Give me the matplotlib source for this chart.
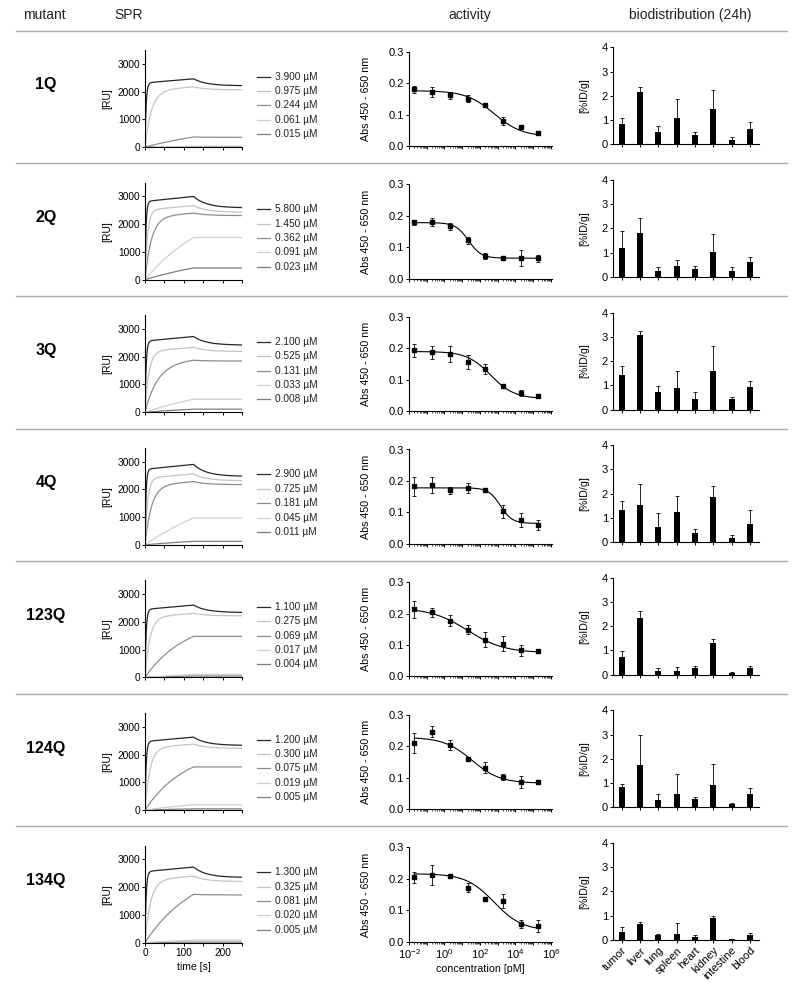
import numpy as np
import matplotlib
matplotlib.use("Agg")
import matplotlib.pyplot as plt
from matplotlib.lines import Line2D
from matplotlib.ticker import FixedLocator, FuncFormatter, LogLocator, NullFormatter

plt.rcParams['font.family'] = ['Liberation Sans', 'DejaVu Sans']
plt.rcParams['font.size'] = 7.3
plt.rcParams['axes.linewidth'] = 0.8
plt.rcParams['xtick.major.width'] = 0.7
plt.rcParams['ytick.major.width'] = 0.7
plt.rcParams['xtick.minor.width'] = 0.5
plt.rcParams['xtick.major.size'] = 2.4
plt.rcParams['ytick.major.size'] = 2.4
plt.rcParams['xtick.minor.size'] = 1.2
plt.rcParams['xtick.major.pad'] = 1.5
plt.rcParams['ytick.major.pad'] = 1.0

mutants = ["1Q", "2Q", "3Q", "4Q", "123Q", "124Q", "134Q"]

# SPR: injected concentrations (uM), response at end of injection (125 s),
# response at end of run, observed association rate (1/s)
spr_conc = [[3.9, 0.975, 0.244, 0.061, 0.015],
            [5.8, 1.45, 0.362, 0.091, 0.023],
            [2.1, 0.525, 0.131, 0.033, 0.008],
            [2.9, 0.725, 0.181, 0.045, 0.011],
            [1.1, 0.275, 0.069, 0.017, 0.004],
            [1.2, 0.3, 0.075, 0.019, 0.005],
            [1.3, 0.325, 0.081, 0.020, 0.005]]
spr_peak = [[2460, 2170, 360, 30, 8],
            [3000, 2670, 2400, 1520, 420],
            [2730, 2340, 1875, 470, 110],
            [2900, 2560, 2280, 970, 125],
            [2610, 2310, 1480, 110, 50],
            [2630, 2380, 1555, 190, 40],
            [2725, 2400, 1740, 90, 20]]
spr_end = [[2210, 2060, 350, 30, 8],
           [2590, 2430, 2310, 1520, 420],
           [2420, 2190, 1845, 470, 110],
           [2470, 2310, 2170, 970, 125],
           [2340, 2220, 1480, 110, 50],
           [2330, 2220, 1555, 190, 40],
           [2350, 2200, 1720, 90, 20]]
spr_kobs = [[0.35, 0.06, 0.004, 0.004, 0.004],
            [0.4, 0.15, 0.06, 0.006, 0.004],
            [0.35, 0.1, 0.03, 0.004, 0.004],
            [0.4, 0.15, 0.06, 0.004, 0.004],
            [0.35, 0.08, 0.01, 0.004, 0.004],
            [0.35, 0.08, 0.01, 0.004, 0.004],
            [0.35, 0.07, 0.008, 0.004, 0.004]]
spr_colors = ['#262626', '#c4c4c4', '#8c8c8c', '#cfcfcf', '#7d7d7d']

# activity (ELISA), concentration in pM
act_conc = [0.02, 0.2, 2, 20, 200, 2000, 20000, 200000]
act_mean = [[0.180, 0.173, 0.161, 0.150, 0.131, 0.080, 0.059, 0.042],
            [0.179, 0.180, 0.166, 0.122, 0.071, 0.065, 0.065, 0.064],
            [0.194, 0.187, 0.182, 0.156, 0.134, 0.081, 0.058, 0.047],
            [0.183, 0.188, 0.170, 0.177, 0.171, 0.103, 0.076, 0.059],
            [0.213, 0.204, 0.177, 0.149, 0.116, 0.104, 0.083, 0.081],
            [0.210, 0.246, 0.205, 0.160, 0.132, 0.101, 0.086, 0.085],
            [0.205, 0.212, 0.210, 0.172, 0.136, 0.128, 0.056, 0.050]]
act_err = [[0.012, 0.016, 0.012, 0.011, 0.007, 0.013, 0.003, 0.007],
           [0.009, 0.012, 0.010, 0.011, 0.009, 0.006, 0.025, 0.011],
           [0.020, 0.022, 0.027, 0.022, 0.015, 0.007, 0.009, 0.006],
           [0.030, 0.025, 0.012, 0.015, 0.002, 0.022, 0.021, 0.016],
           [0.026, 0.014, 0.017, 0.014, 0.024, 0.024, 0.017, 0.006],
           [0.033, 0.017, 0.016, 0.003, 0.017, 0.010, 0.018, 0.006],
           [0.018, 0.033, 0.003, 0.013, 0.003, 0.022, 0.012, 0.019]]
# 4PL fit parameters
fit_top = [0.176, 0.178, 0.190, 0.178, 0.218, 0.228, 0.216]
fit_bottom = [0.030, 0.065, 0.040, 0.065, 0.075, 0.082, 0.035]
fit_logic50 = [2.8, 1.35, 2.6, 3.15, 1.3, 1.55, 2.8]
fit_hill = [0.55, 1.2, 0.65, 1.3, 0.42, 0.55, 0.55]

# biodistribution 24h, %ID/g
organs = ["tumor", "liver", "lung", "spleen", "heart", "kidney", "intestine", "blood"]
bio_mean = [[0.84, 2.14, 0.51, 1.09, 0.40, 1.44, 0.19, 0.62],
            [1.19, 1.81, 0.26, 0.44, 0.34, 1.01, 0.23, 0.63],
            [1.43, 3.07, 0.73, 0.88, 0.43, 1.57, 0.43, 0.91],
            [1.34, 1.52, 0.61, 1.25, 0.39, 1.88, 0.18, 0.74],
            [0.72, 2.35, 0.16, 0.15, 0.27, 1.32, 0.08, 0.27],
            [0.83, 1.76, 0.31, 0.53, 0.33, 0.90, 0.12, 0.53],
            [0.32, 0.66, 0.22, 0.25, 0.14, 0.89, 0.03, 0.22]]
bio_err = [[0.26, 0.24, 0.26, 0.79, 0.12, 0.79, 0.13, 0.30],
           [0.70, 0.63, 0.14, 0.24, 0.09, 0.76, 0.18, 0.18],
           [0.36, 0.17, 0.22, 0.71, 0.30, 1.06, 0.08, 0.27],
           [0.37, 0.86, 0.59, 0.65, 0.17, 0.42, 0.11, 0.57],
           [0.26, 0.28, 0.10, 0.15, 0.07, 0.14, 0.04, 0.10],
           [0.13, 1.23, 0.22, 0.84, 0.08, 0.87, 0.06, 0.26],
           [0.21, 0.09, 0.04, 0.45, 0.07, 0.11, 0.00, 0.05]]

W, H = 800, 988
fig = plt.figure(figsize=(8, 9.88), dpi=100)


def rect(left, bottom, width, height):
    return [left / W, 1 - bottom / H, width / W, height / H]


def style(ax):
    for s in ['top', 'right']:
        ax.spines[s].set_visible(False)
    ax.tick_params(direction='out', colors='black')


t_inj = 125.0
t = np.linspace(0, 250, 501)


def sensorgram(peak, end, k):
    assoc = peak * (0.94 * (1 - np.exp(-k * t)) / (1 - np.exp(-k * t_inj)) + 0.06 * t / t_inj)
    diss = end + (peak - end) * np.exp(-0.03 * (t - t_inj))
    return np.where(t <= t_inj, assoc, diss)


# header
hy = 15
fig.text(44 / W, 1 - hy / H, "mutant", ha='center', va='center', fontsize=10, color='#222222')
fig.text(129 / W, 1 - hy / H, "SPR", ha='center', va='center', fontsize=10, color='#222222')
fig.text(470 / W, 1 - hy / H, "activity", ha='center', va='center', fontsize=10, color='#222222')
fig.text(690 / W, 1 - hy / H, "biodistribution (24h)", ha='center', va='center', fontsize=10, color='#222222')

row_h = 132.6
for i in range(7):
    dy = row_h * i
    last = i == 6

    # separator above the row
    sy = 1 - (30.8 + dy) / H
    fig.add_artist(Line2D([16 / W, 787 / W], [sy, sy], color='#ababab', lw=1.0))

    fig.text(46 / W, 1 - (85 + dy) / H, mutants[i], ha='center', va='center',
             fontsize=11.5, fontweight='bold')

    # SPR
    ax = fig.add_axes(rect(145, 147 + dy, 97, 97))
    style(ax)
    for j in reversed(range(5)):
        ax.plot(t, sensorgram(spr_peak[i][j], spr_end[i][j], spr_kobs[i][j]),
                color=spr_colors[j], lw=0.9)
    ax.set_xlim(0, 250)
    ax.set_ylim(0, 3500)
    ax.set_yticks([0, 1000, 2000, 3000])
    ax.set_xticks(range(0, 251, 50))
    ax.tick_params(labelsize=7.3)
    ax.set_ylabel("[RU]", fontsize=7.5)
    ax.yaxis.set_label_coords(-0.34, 0.5)
    if last:
        ax.set_xticklabels(['0', '', '100', '', '200', ''])
        ax.set_xlabel("time [s]", fontsize=7.5, labelpad=3)
    else:
        ax.tick_params(labelbottom=False)
    for j in range(5):
        ly = 0.725 - 0.148 * j
        ax.plot([1.155, 1.29], [ly, ly], transform=ax.transAxes, clip_on=False,
                color=spr_colors[j], lw=0.9)
        ax.text(1.34, ly, "%.3f µM" % spr_conc[i][j], transform=ax.transAxes,
                va='center', ha='left', fontsize=7.3, color='#222222')

    # activity
    ax = fig.add_axes(rect(409, 146 + dy, 142.7, 94.3))
    style(ax)
    ax.set_xscale('log')
    xf = np.logspace(np.log10(act_conc[0]), np.log10(act_conc[-1]), 300)
    yf = fit_bottom[i] + (fit_top[i] - fit_bottom[i]) / (1 + 10 ** (fit_hill[i] * (np.log10(xf) - fit_logic50[i])))
    ax.plot(xf, yf, color='black', lw=0.8)
    ax.errorbar(act_conc, act_mean[i], yerr=act_err[i], fmt='s', color='black',
                ms=2.2, elinewidth=0.6, capsize=1.6, capthick=0.6)
    ax.set_xlim(10 ** -2, 10 ** 6.05)
    ax.set_ylim(0, 0.3)
    ax.set_yticks([0, 0.1, 0.2, 0.3])
    ax.set_yticklabels(['0.0', '0.1', '0.2', '0.3'])
    ax.xaxis.set_major_locator(FixedLocator([10.0 ** k for k in range(-2, 7)]))
    ax.xaxis.set_minor_locator(LogLocator(base=10, subs=np.arange(2, 10), numticks=30))
    ax.xaxis.set_minor_formatter(NullFormatter())
    ax.xaxis.set_major_formatter(FuncFormatter(
        lambda v, p: r'$\mathregular{10^{%d}}$' % round(np.log10(v)) if round(np.log10(v)) % 2 == 0 else ''))
    ax.tick_params(labelsize=8)
    ax.set_ylabel("Abs 450 - 650 nm", fontsize=7.7)
    ax.yaxis.set_label_coords(-0.265, 0.5)
    if last:
        ax.set_xlabel("concentration [pM]", fontsize=7.7, labelpad=2)
    else:
        ax.tick_params(labelbottom=False)

    # biodistribution
    ax = fig.add_axes(rect(612.7, 144.3 + dy, 146.3, 97))
    style(ax)
    x = np.arange(len(organs))
    ax.bar(x, bio_mean[i], width=0.33, color='black')
    ax.errorbar(x, bio_mean[i], yerr=[np.zeros(len(organs)), bio_err[i]], fmt='none',
                ecolor='black', elinewidth=0.6, capsize=1.6, capthick=0.6)
    ax.set_xlim(-0.5, 7.5)
    ax.set_ylim(0, 4)
    ax.set_yticks([0, 1, 2, 3, 4])
    ax.set_xticks(x)
    ax.tick_params(labelsize=8)
    ax.set_ylabel("[%ID/g]", fontsize=7.7)
    ax.yaxis.set_label_coords(-0.16, 0.5)
    if last:
        ax.set_xticklabels(organs, rotation=45, ha='right', rotation_mode='anchor')
    else:
        ax.tick_params(labelbottom=False)

fig.savefig("out.png", dpi=100)
